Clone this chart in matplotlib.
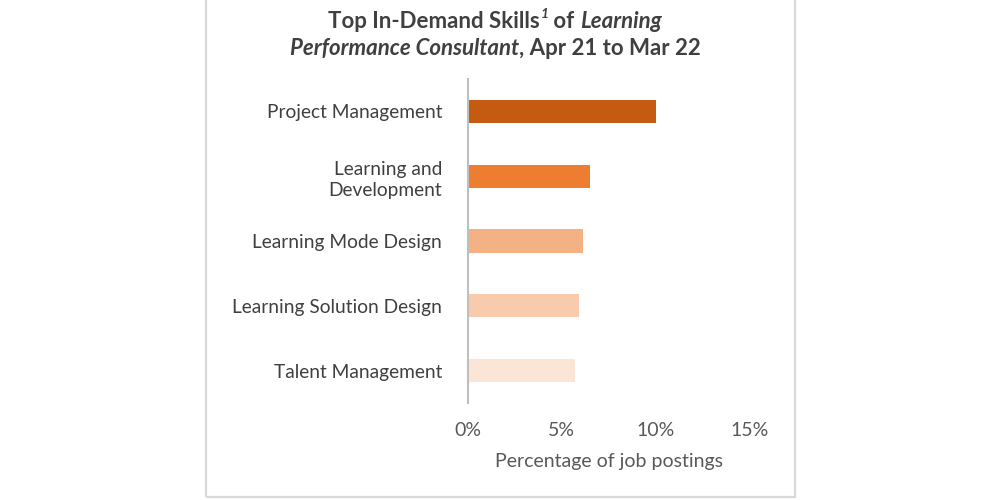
import matplotlib
matplotlib.use("Agg")
import matplotlib.pyplot as plt
from matplotlib.patches import Rectangle

skills = ["Project Management", "Learning and\nDevelopment", "Learning Mode Design",
          "Learning Solution Design", "Talent Management"]
shares = [10.0, 6.5, 6.15, 5.92, 5.72]
bar_colors = ["#C55A11", "#ED7D31", "#F4B183", "#F8CBAD", "#FBE5D6"]
xticks = [0, 5, 10, 15]
xtick_labels = ["0%", "5%", "10%", "15%"]
xlabel = "Percentage of job postings"

FONT = "Lato"
TXT = "#404040"

fig = plt.figure(figsize=(10, 5), dpi=100)
fig.patch.set_facecolor("white")

# panel border
fig.patches.append(Rectangle((0.206, 0.006), 0.589, 1.2, transform=fig.transFigure,
                             fill=False, edgecolor="#D9D9D9", lw=1.6, zorder=0))

ax = fig.add_axes([0.4677, 0.194, 0.2823, 0.648])
y = list(range(len(skills)))
ax.barh(y, shares, height=0.36, color=bar_colors, zorder=2)
ax.set_ylim(4.5, -0.5)
ax.set_xlim(0, 15)
ax.set_yticks(y)
ax.set_yticklabels(skills, fontsize=13.8, color=TXT, family=FONT, ha="right",
                   linespacing=1.3)
ax.set_xticks(xticks)
ax.set_xticklabels(xtick_labels, fontsize=14, color="#595959", family=FONT)
ax.tick_params(axis="both", length=0)
ax.tick_params(axis="y", pad=18.5)
ax.tick_params(axis="x", pad=14)
ax.set_xlabel(xlabel, fontsize=14, color="#595959", family=FONT, labelpad=10)
for s in ["top", "right", "bottom"]:
    ax.spines[s].set_visible(False)
ax.spines["left"].set_color("#BFBFBF")
ax.spines["left"].set_linewidth(1.5)
ax.set_facecolor("none")

# title with mixed styles
renderer = fig.canvas.get_renderer()

def draw_line(segments, ycen, xcen=0.495, size=16):
    texts = []
    widths = []
    for txt, style, weight, sup in segments:
        s = size * (0.62 if sup else 1.0)
        t = fig.text(0, 0, txt, fontsize=s, fontstyle=style, fontweight=weight,
                     family=FONT, color=TXT, va="baseline", ha="left")
        bb = t.get_window_extent(renderer)
        widths.append(bb.width / fig.bbox.width)
        texts.append((t, sup))
    total = sum(widths)
    x = xcen - total / 2
    for (t, sup), w in zip(texts, widths):
        t.set_position((x, ycen + (0.02 if sup else 0.0)))
        x += w

draw_line([("Top In-Demand Skills", "normal", "bold", False),
           ("1", "italic", "bold", True),
           (" of ", "normal", "bold", False),
           ("Learning", "italic", "bold", False)], 1 - 28 / 500)
draw_line([("Performance Consultant", "italic", "bold", False),
           (", Apr 21 to Mar 22", "normal", "bold", False)], 1 - 55 / 500)

fig.savefig("out.png", dpi=100, facecolor="white")
